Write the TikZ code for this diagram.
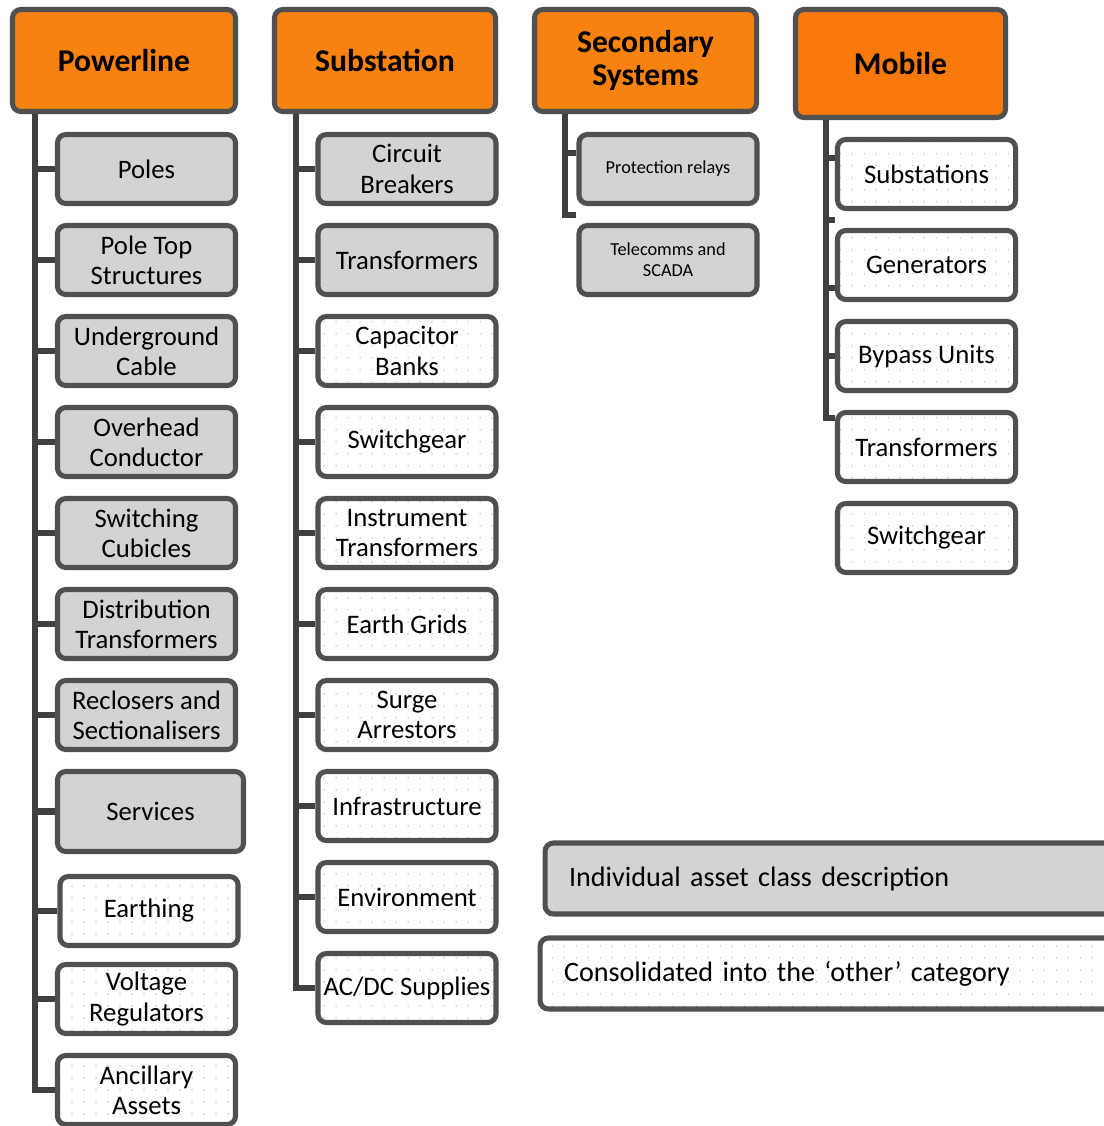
\documentclass[tikz,border=0pt]{standalone}
\usepackage{fontspec}
\setmainfont{Carlito}
\usetikzlibrary{patterns.meta}
\definecolor{hdorange}{RGB}{247,130,15}
\definecolor{mborange}{RGB}{249,121,13}
\definecolor{boxline}{RGB}{80,80,80}
\definecolor{spinegray}{RGB}{64,64,64}
\definecolor{boxgray}{RGB}{211,211,211}
\definecolor{dotgray}{RGB}{195,195,195}

\begin{document}
\begin{tikzpicture}[
  x=0.025cm,y=-0.025cm,
  every node/.style={font=\fontsize{19}{21.5}\selectfont},
  hdbox/.style={draw=boxline,line width=3.6pt,rounded corners=6pt,fill=hdorange,align=center,
    minimum height=2.55cm,font=\fontsize{22.5}{24}\selectfont\bfseries},
  assetbox/.style={draw=boxline,line width=3.6pt,rounded corners=6pt,align=center,
    minimum width=4.45cm,minimum height=1.725cm,inner sep=2pt},
  keptbox/.style={assetbox,fill=boxgray},
  otherbox/.style={assetbox,pattern={Dots[distance=0.3cm,radius=0.6pt]},pattern color=dotgray},
  smalltext/.style={font=\fontsize{13}{15}\selectfont},
  keytext/.style={anchor=west,minimum height=1.775cm,align=left,inner xsep=0.6cm,
    font=\fontsize{20}{24}\selectfont},
  spine/.style={draw=spinegray,line width=4.3pt},
]
  \useasboundingbox (0,0) rectangle (1104,1126);

  % Headers
  \node[hdbox,minimum width=5.575cm] (pl) at (124,60.5) {Powerline};
  \node[hdbox,minimum width=5.525cm] (ss) at (385,60.5) {Substation};
  \node[hdbox,minimum width=5.55cm] (sec) at (645.5,60.5) {Secondary\\Systems};
  \node[hdbox,minimum width=5.25cm,minimum height=2.7cm,fill=mborange] (mob) at (900.5,63.5) {Mobile};

  % Powerline assets
  \node[keptbox] (poles) at (146.5,169) {Poles};
  \node[keptbox] (ptop) at (146.5,260) {Pole Top\\Structures};
  \node[keptbox] (ugc) at (146.5,351) {Underground\\Cable};
  \node[keptbox] (ohc) at (146.5,442) {Overhead\\Conductor};
  \node[keptbox] (swc) at (146.5,533) {Switching\\Cubicles};
  \node[keptbox] (dtx) at (146.5,624) {Distribution\\Transformers};
  \node[keptbox] (rcl) at (146.5,715) {Reclosers and\\Sectionalisers};
  \node[keptbox,minimum width=4.65cm,minimum height=2cm] (serv) at (150.5,811.5) {Services};
  \node[otherbox] (earth) at (149,911) {Earthing};
  \node[otherbox] (vreg) at (146.5,999) {Voltage\\Regulators};
  \node[otherbox] (anc) at (146.5,1090) {Ancillary\\Assets};

  % Substation assets
  \node[keptbox] (cb) at (407,169) {Circuit\\Breakers};
  \node[keptbox] (stx) at (407,260) {Transformers};
  \node[otherbox] (cap) at (407,351) {Capacitor\\Banks};
  \node[otherbox] (swg) at (407,442) {Switchgear};
  \node[otherbox] (itx) at (407,533) {Instrument\\Transformers};
  \node[otherbox] (egr) at (407,624) {Earth Grids};
  \node[otherbox] (sar) at (407,715) {Surge\\Arrestors};
  \node[otherbox] (inf) at (407,806) {Infrastructure};
  \node[otherbox] (env) at (407,897) {Environment};
  \node[otherbox] (acdc) at (407,988) {AC/DC Supplies};

  % Secondary systems assets
  \node[keptbox,smalltext] (prl) at (668,169) {Protection relays};
  \node[keptbox,smalltext] (tel) at (668,260) {Telecomms and\\SCADA};

  % Mobile assets
  \node[otherbox] (msub) at (926.5,174) {Substations};
  \node[otherbox] (mgen) at (926.5,265) {Generators};
  \node[otherbox] (mbyp) at (926.5,356) {Bypass Units};
  \node[otherbox] (mtx) at (926.5,447) {Transformers};
  \node[otherbox] (mswg) at (926.5,538) {Switchgear};

  % Key
  \node[keptbox,keytext,minimum width=14.3cm,text width=13.1cm] (kept) at (542.5,878.5)
    {Individual asset class description};
  \node[otherbox,keytext,minimum width=14.5cm,text width=13.3cm] (other) at (537.5,973.5)
    {Consolidated into the ‘other’ category};

  % Spines
  \coordinate (plx) at (35,114);
  \coordinate (ssx) at (296,114);
  \coordinate (secx) at (565,114);
  \coordinate (mobx) at (826,120);

  \draw[spine] (plx) |- (anc.west)
    (plx |- poles.west) -- (poles.west) (plx |- ptop.west) -- (ptop.west)
    (plx |- ugc.west) -- (ugc.west) (plx |- ohc.west) -- (ohc.west)
    (plx |- swc.west) -- (swc.west) (plx |- dtx.west) -- (dtx.west)
    (plx |- rcl.west) -- (rcl.west) (plx |- serv.west) -- (serv.west)
    (plx |- earth.west) -- (earth.west) (plx |- vreg.west) -- (vreg.west);

  \draw[spine] (ssx) |- (acdc.west)
    (ssx |- cb.west) -- (cb.west) (ssx |- stx.west) -- (stx.west)
    (ssx |- cap.west) -- (cap.west) (ssx |- swg.west) -- (swg.west)
    (ssx |- itx.west) -- (itx.west) (ssx |- egr.west) -- (egr.west)
    (ssx |- sar.west) -- (sar.west) (ssx |- inf.west) -- (inf.west)
    (ssx |- env.west) -- (env.west);

  \draw[spine] (secx) |- ([yshift=0.21cm]tel.north west)
    ([yshift=0.4cm]prl.west) -| (secx);

  \draw[spine] (mobx) |- ([yshift=-0.19cm]mtx.north west)
    ([yshift=0.4cm]msub.west) -| (mobx)
    ([yshift=0.19cm]mgen.north west) -| (mobx)
    ([yshift=-0.575cm]mgen.west) -| (mobx)
    (mbyp.west) -| (mobx);
\end{tikzpicture}
\end{document}
